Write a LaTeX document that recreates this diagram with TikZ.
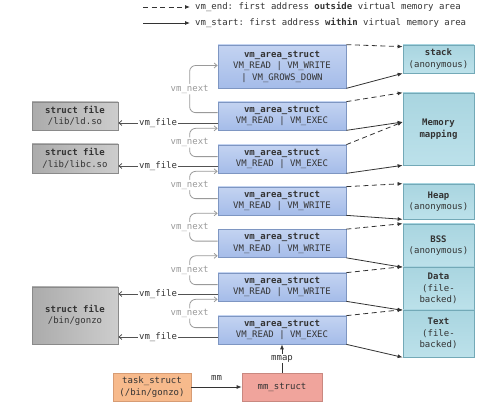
\documentclass[tikz,border=0pt]{standalone}
\usepackage{fontspec}
\setmonofont{DejaVu Sans Mono}
\usetikzlibrary{arrows.meta}

\definecolor{inkgray}{HTML}{333333}
\definecolor{softgray}{HTML}{9A9A9A}
\definecolor{vmatop}{HTML}{C3D3F1}
\definecolor{vmabot}{HTML}{A5BCE9}
\definecolor{vmaline}{HTML}{7E96C2}
\definecolor{segtop}{HTML}{A9D5E0}
\definecolor{segbot}{HTML}{BCE1EA}
\definecolor{segline}{HTML}{73A9B7}
\definecolor{fileleft}{HTML}{ABABAB}
\definecolor{fileright}{HTML}{CDCDCD}
\definecolor{fileline}{HTML}{8A8A8A}
\definecolor{taskfill}{HTML}{F7BA8C}
\definecolor{taskline}{HTML}{D79C74}
\definecolor{mmfill}{HTML}{F0A49C}
\definecolor{mmline}{HTML}{C98880}

\newcommand{\boxfont}{\ttfamily\fontsize{9}{11.5}\selectfont}

\tikzset{
  vmabox/.style={draw=vmaline, line width=0.7pt, top color=vmatop, bottom color=vmabot,
    minimum width=128pt, minimum height=28pt, inner sep=1pt, align=center,
    font=\boxfont, text=inkgray},
  segbox/.style={draw=segline, line width=0.7pt, top color=segtop, bottom color=segbot,
    minimum width=71pt, inner sep=1pt, align=center, font=\boxfont, text=inkgray},
  filebox/.style={draw=fileline, line width=0.7pt, left color=fileleft, right color=fileright,
    minimum width=86pt, inner sep=1pt, align=center, font=\boxfont, text=inkgray},
  endline/.style={draw=inkgray, line width=0.8pt, dash pattern=on 5pt off 3.5pt,
    -{Latex[length=5pt,width=4pt]}},
  startline/.style={draw=inkgray, line width=0.8pt, -{Latex[length=5pt,width=4pt]}},
  fileconn/.style={draw=inkgray!85, line width=0.8pt, -{Straight Barb[length=3pt,width=5pt]}},
  nextconn/.style={draw=softgray, line width=0.8pt, rounded corners=6pt,
    -{Straight Barb[length=3pt,width=5pt]}},
  linklabel/.style={fill=white, inner sep=1pt, font=\boxfont},
}

\begin{document}
\begin{tikzpicture}[x=1pt,y=-1pt]
  \useasboundingbox (0,0) rectangle (499,411);

  % legend
  \coordinate (legendA) at (143,7);
  \coordinate (legendB) at (190,7);
  \coordinate (legendC) at (143,23);
  \coordinate (legendD) at (190,23);
  \draw[endline] (legendA) -- (legendB);
  \draw[startline] (legendC) -- (legendD);
  \node[anchor=west, inner sep=0pt, xshift=5pt, font=\boxfont, text=inkgray] (legendend) at (legendB)
    {vm\_end: first address \textbf{outside} virtual memory area};
  \node[anchor=west, inner sep=0pt, xshift=5pt, font=\boxfont, text=inkgray] (legendstart) at (legendD)
    {vm\_start: first address \textbf{within} virtual memory area};

  % vm_area_struct chain
  \node[vmabox, minimum height=43pt] (vmaA) at (282,66.5)
    {\textbf{vm\_area\_struct}\\VM\_READ | VM\_WRITE\\| VM\_GROWS\_DOWN};
  \node[vmabox] (vmaB) at (282,116) {\textbf{vm\_area\_struct}\\VM\_READ | VM\_EXEC};
  \node[vmabox] (vmaC) at (282,159) {\textbf{vm\_area\_struct}\\VM\_READ | VM\_EXEC};
  \node[vmabox] (vmaD) at (282,201) {\textbf{vm\_area\_struct}\\VM\_READ | VM\_WRITE};
  \node[vmabox] (vmaE) at (282,243.5) {\textbf{vm\_area\_struct}\\VM\_READ | VM\_WRITE};
  \node[vmabox] (vmaF) at (282,287) {\textbf{vm\_area\_struct}\\VM\_READ | VM\_WRITE};
  \node[vmabox] (vmaG) at (282,330) {\textbf{vm\_area\_struct}\\VM\_READ | VM\_EXEC};

  % memory areas
  \node[segbox, minimum height=28pt] (stack) at (438.5,59) {\textbf{stack}\\(anonymous)};
  \node[segbox, minimum height=72pt] (mapping) at (438.5,129) {\textbf{Memory}\\\textbf{mapping}};
  \node[segbox, minimum height=35pt] (heap) at (438.5,201.5) {\textbf{Heap}\\(anonymous)};
  \node[segbox, minimum height=43pt] (bss) at (438.5,245.5) {\textbf{BSS}\\(anonymous)};
  \node[segbox, minimum height=43pt] (data) at (438.5,288.5) {\textbf{Data}\\(file-\\backed)};
  \node[segbox, minimum height=47pt] (text) at (438.5,333.5) {\textbf{Text}\\(file-\\backed)};

  % files
  \node[filebox, minimum height=28pt] (ldso) at (75,116) {\textbf{struct file}\\/lib/ld.so};
  \node[filebox, minimum height=29pt] (libcso) at (75,158.5) {\textbf{struct file}\\/lib/libc.so};
  \node[filebox, minimum height=57pt] (gonzo) at (75,315.5) {\textbf{struct file}\\/bin/gonzo};

  % task and mm
  \node[draw=taskline, line width=0.7pt, fill=taskfill, minimum width=78pt, minimum height=28pt,
    inner sep=1pt, align=center, font=\boxfont, text=inkgray] (task) at (152,387)
    {task\_struct\\(/bin/gonzo)};
  \node[draw=mmline, line width=0.7pt, fill=mmfill, minimum width=80pt, minimum height=28pt,
    inner sep=1pt, font=\boxfont, text=inkgray] (mmst) at (282,387) {mm\_struct};

  % vm_end / vm_start
  \draw[endline] (vmaA.north east) -- ([yshift=-2pt]stack.north west);
  \draw[startline] (vmaA.south east) -- (stack.south west);
  \draw[endline] (vmaB.north east) -- (mapping.north west);
  \draw[startline] (vmaB.south east) -- ([yshift=7pt]mapping.west);
  \draw[endline] (vmaC.north east) -- ([yshift=7pt]mapping.west);
  \draw[startline] (vmaC.south east) -- (mapping.south west);
  \draw[endline] (vmaD.north east) -- (heap.north west);
  \draw[startline] (vmaD.south east) -- (heap.south west);
  \draw[endline] (vmaE.north east) -- (bss.north west);
  \draw[startline] (vmaE.south east) -- (bss.south west);
  \draw[endline] (vmaF.north east) -- (data.north west);
  \draw[startline] (vmaF.south east) -- (data.south west);
  \draw[endline] (vmaG.north east) -- (text.north west);
  \draw[startline] (vmaG.south east) -- (text.south west);

  % vm_next
  \draw[nextconn] ([yshift=-11pt]vmaB.north west) -- ++(-28,0)
    |- node[linklabel, pos=0.25, text=softgray] (nextA) {vm\_next} ([yshift=1pt]vmaA.west);
  \draw[nextconn] ([yshift=-12pt]vmaC.north west) -- ++(-28,0)
    |- node[linklabel, pos=0.25, text=softgray] (nextB) {vm\_next} ([yshift=2pt]vmaB.south west);
  \draw[nextconn] ([yshift=-12pt]vmaD.north west) -- ++(-28,0)
    |- node[linklabel, pos=0.25, text=softgray] (nextC) {vm\_next} ([yshift=2pt]vmaC.south west);
  \draw[nextconn] ([yshift=-12pt]vmaE.north west) -- ++(-28,0)
    |- node[linklabel, pos=0.25, text=softgray] (nextD) {vm\_next} ([yshift=2pt]vmaD.south west);
  \draw[nextconn] ([yshift=-12pt]vmaF.north west) -- ++(-28,0)
    |- node[linklabel, pos=0.25, text=softgray] (nextE) {vm\_next} ([yshift=2pt]vmaE.south west);
  \draw[nextconn] ([yshift=-12pt]vmaG.north west) -- ++(-28,0)
    |- node[linklabel, pos=0.25, text=softgray] (nextF) {vm\_next} ([yshift=2pt]vmaF.south west);

  % vm_file
  \coordinate (fileB) at ([yshift=-7pt]vmaB.west);
  \coordinate (fileC) at ([yshift=-7pt]vmaC.west);
  \coordinate (fileF) at ([yshift=-7pt]vmaF.west);
  \coordinate (fileG) at ([yshift=-7pt]vmaG.west);
  \draw[fileconn] (fileB) -- node[linklabel, pos=0.6, text=inkgray] (vmfileB) {vm\_file} (fileB -| ldso.east);
  \draw[fileconn] (fileC) -- node[linklabel, pos=0.6, text=inkgray] (vmfileC) {vm\_file} (fileC -| libcso.east);
  \draw[fileconn] (fileF) -- node[linklabel, pos=0.6, text=inkgray] (vmfileF) {vm\_file} (fileF -| gonzo.east);
  \draw[fileconn] (fileG) -- node[linklabel, pos=0.6, text=inkgray] (vmfileG) {vm\_file} (fileG -| gonzo.east);

  % mm and mmap
  \draw[startline] (task) -- node[above, yshift=3pt, font=\boxfont, text=inkgray] (mmlabel) {mm} (mmst);
  \draw[startline] (mmst.north) -- node[linklabel, text=inkgray] (mmaplabel) {mmap} (vmaG.south);
\end{tikzpicture}
\end{document}
